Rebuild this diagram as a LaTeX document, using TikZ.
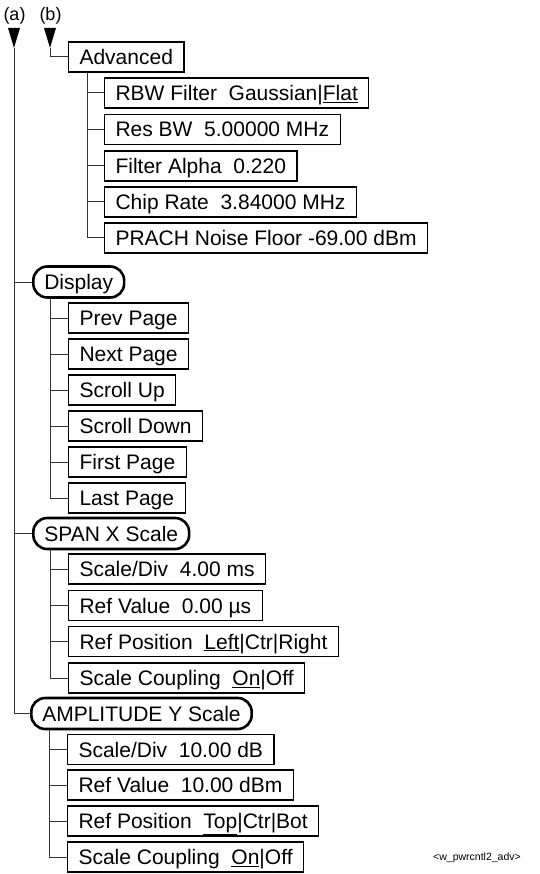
\documentclass[tikz,border=0pt]{standalone}
\usepackage{fontspec}
\setmainfont{Liberation Sans}
\usetikzlibrary{calc}
\newcommand{\ulx}[1]{\underline{#1}}
\begin{document}
\begin{tikzpicture}[x=1pt,y=-1pt,
  box/.style={draw, line width=1.1pt, anchor=west, inner xsep=11pt, inner ysep=0pt,
    minimum height=30pt, font=\fontsize{21}{24}\selectfont, text height=15pt, text depth=0pt},
  oval/.style={box, line width=2.6pt, rounded corners=14pt, minimum height=31pt},
  conn/.style={line width=1pt, draw=black!80},
  lbl/.style={font=\fontsize{18}{20}\selectfont, inner sep=0pt},
  tag/.style={font=\fontsize{10.5}{12}\selectfont, inner sep=0pt}
]
\useasboundingbox (0,0) rectangle (539,874);

% labels and arrows
\node[lbl] (la) at (14.5,16) {(a)};
\node[lbl] (lb) at (50.5,16) {(b)};
\coordinate (a1) at (14,48);
\coordinate (b1) at (50,48);
\fill (a1) -- ++(-6,-20) -- ++(12,0) -- cycle;
\fill (b1) -- ++(-6,-20) -- ++(12,0) -- cycle;

% Advanced branch
\node[box] (adv) at (68,57) {Advanced};
\node[box] (rbw) at (104,93) {RBW Filter\ \ Gaussian|\ulx{Flat}};
\node[box] (res) at (104,129.5) {Res BW\ \ 5.00000 MHz};
\node[box] (alp) at (104,166) {Filter Alpha\ \ 0.220};
\node[box] (chp) at (104,202) {Chip Rate\ \ 3.84000 MHz};
\node[box] (pra) at (104,238) {PRACH Noise Floor -69.00 dBm};

% Display branch
\node[oval] (disp) at (32,282) {Display};
\node[box] (prv) at (68,318) {Prev Page};
\node[box] (nxt) at (68,354) {Next Page};
\node[box] (sup) at (68,390) {Scroll Up};
\node[box] (sdn) at (68,426) {Scroll Down};
\node[box] (fst) at (68,462) {First Page};
\node[box] (lst) at (68,498) {Last Page};

% SPAN branch
\node[oval] (span) at (32,533.5) {SPAN X Scale};
\node[box] (xsd) at (68,569) {Scale/Div\ \ 4.00 ms};
\node[box] (xrv) at (68,605.5) {Ref Value\ \ 0.00 µs};
\node[box] (xrp) at (68,641.5) {Ref Position\ \ \ulx{Left}|Ctr|Right};
\node[box] (xsc) at (68,678) {Scale Coupling\ \ \ulx{On}|Off};

% AMPLITUDE branch
\node[oval] (amp) at (30,713.5) {AMPLITUDE Y Scale};
\node[box] (ysd) at (67,749.5) {Scale/Div\ \ 10.00 dB};
\node[box] (yrv) at (67,785) {Ref Value\ \ 10.00 dBm};
\node[box] (yrp) at (67,821) {Ref Position\ \ \ulx{Top}|Ctr|Bot};
\node[box] (ysc) at (67,857) {Scale Coupling\ \ \ulx{On}|Off};

\node[tag] (tg) at (477,858) {<w\_pwrcntl2\_adv>};

% connectors
\draw[conn] (b1) |- (adv.west);
\foreach \t in {disp,span,amp} \draw[conn] (a1) |- (\t.west);

\coordinate (advc) at ([xshift=19pt]adv.south west);
\foreach \t in {rbw,res,alp,chp,pra} \draw[conn] (advc) |- (\t.west);
\coordinate (dispc) at ([xshift=18pt]disp.south west);
\foreach \t in {prv,nxt,sup,sdn,fst,lst} \draw[conn] (dispc) |- (\t.west);
\coordinate (spanc) at ([xshift=18pt]span.south west);
\foreach \t in {xsd,xrv,xrp,xsc} \draw[conn] (spanc) |- (\t.west);
\coordinate (ampc) at ([xshift=19pt]amp.south west);
\foreach \t in {ysd,yrv,yrp,ysc} \draw[conn] (ampc) |- (\t.west);
\end{tikzpicture}
\end{document}
